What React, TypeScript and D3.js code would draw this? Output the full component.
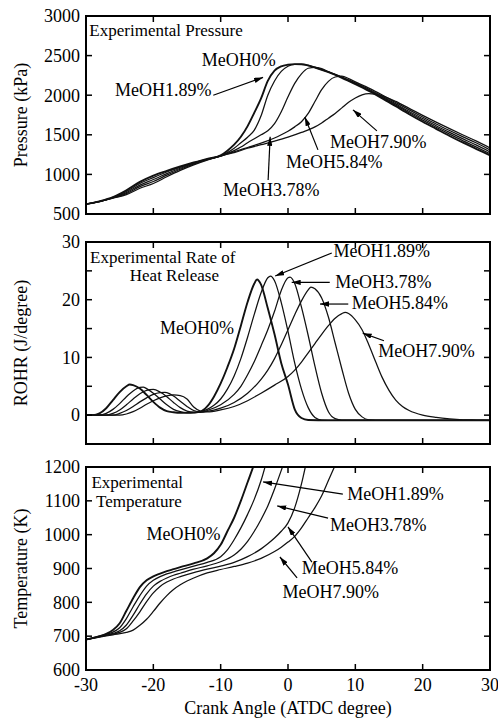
import React from 'react'
import * as d3 from 'd3'

// fuel blends, earliest ignition first
const seriesNames = ['MeOH0%', 'MeOH1.89%', 'MeOH3.78%', 'MeOH5.84%', 'MeOH7.90%']
const crankTicks = [-30, -20, -10, 0, 10, 20, 30]

// pressure, kPa  [crank angle, value]
const pressure0 = [[-30,625],[-28,660],[-26,712],[-24,800],[-22,905],[-20,985],[-18,1045],[-16,1100],[-14,1150],[-12,1195],[-10,1240],[-9,1300],[-8,1375],[-7,1475],[-6,1610],[-5,1780],[-4,1960],[-3,2180],[-2,2310],[-1,2365],[0,2385],[1,2392],[2,2390],[3,2375],[4,2350],[6,2290],[8,2220],[10,2140],[12,2055],[14,1960],[16,1860],[18,1760],[20,1665],[22,1575],[24,1485],[26,1400],[28,1320],[30,1240]]
const pressure1 = [[-30,625],[-28,660],[-26,710],[-24,785],[-22,885],[-20,960],[-18,1030],[-16,1090],[-14,1145],[-12,1192],[-10,1238],[-9,1275],[-8,1330],[-7,1400],[-6,1470],[-5,1560],[-4,1740],[-3,2000],[-2,2180],[-1,2300],[0,2365],[1,2388],[2,2390],[3,2378],[4,2352],[6,2293],[8,2225],[10,2148],[12,2065],[14,1972],[16,1875],[18,1778],[20,1685],[22,1595],[24,1508],[26,1424],[28,1345],[30,1262]]
const pressure2 = [[-30,625],[-28,658],[-26,705],[-24,770],[-22,865],[-20,935],[-18,1010],[-16,1078],[-14,1138],[-12,1188],[-10,1235],[-9,1265],[-8,1300],[-7,1345],[-6,1400],[-5,1450],[-4,1500],[-3,1550],[-2,1640],[-1,1790],[0,1980],[1,2150],[2,2270],[3,2340],[4,2352],[5,2335],[6,2298],[8,2230],[10,2155],[12,2075],[14,1985],[16,1890],[18,1795],[20,1705],[22,1615],[24,1530],[26,1448],[28,1370],[30,1285]]
const pressure3 = [[-30,625],[-28,657],[-26,702],[-24,757],[-22,845],[-20,910],[-18,990],[-16,1065],[-14,1130],[-12,1185],[-10,1232],[-9,1258],[-8,1285],[-6,1340],[-4,1395],[-2,1460],[-1,1500],[0,1545],[1,1600],[2,1665],[3,1770],[4,1920],[5,2070],[6,2175],[7,2230],[8,2240],[9,2210],[10,2168],[12,2090],[14,2002],[16,1908],[18,1815],[20,1725],[22,1637],[24,1554],[26,1474],[28,1396],[30,1310]]
const pressure4 = [[-30,625],[-28,656],[-26,700],[-24,745],[-22,825],[-20,885],[-18,970],[-16,1050],[-14,1120],[-12,1180],[-10,1230],[-9,1255],[-8,1275],[-6,1330],[-4,1375],[-2,1420],[0,1470],[2,1530],[4,1600],[5,1650],[6,1710],[7,1770],[8,1840],[9,1910],[10,1965],[11,2005],[12,2020],[13,2012],[14,1992],[16,1922],[18,1834],[20,1745],[22,1660],[24,1578],[26,1498],[28,1420],[30,1335]]

// rate of heat release, J/degree
const rohr0 = [[-30,0],[-29,0],[-28,0.3],[-27,1.2],[-26,2.6],[-25,4.0],[-24,5.0],[-23.5,5.3],[-23,5.2],[-22,4.6],[-21,3.5],[-20,2.3],[-19,1.3],[-18,0.7],[-17,0.5],[-16,0.4],[-15,0.4],[-14,0.45],[-13,0.6],[-12,1.5],[-11,3.2],[-10,5.5],[-9,8.3],[-8,11.5],[-7,15.5],[-6,19.6],[-5,22.8],[-4.6,23.5],[-4,22.6],[-3,18.5],[-2,14],[-1,9],[0,5.3],[1,1.0],[2,-0.5],[3,-0.85],[6,-0.9],[30,-0.9]]
const rohr1 = [[-30,0],[-28,0],[-27,0.3],[-26,1.0],[-25,2.0],[-24,3.2],[-23,4.2],[-22,4.8],[-21.5,4.85],[-21,4.6],[-20,3.8],[-19,2.8],[-18,1.8],[-17,1.0],[-16,0.6],[-15,0.45],[-14,0.45],[-13,0.6],[-12,1.0],[-11,1.7],[-10,2.8],[-9,4.5],[-8,6.8],[-7,9.8],[-6,13.5],[-5,17.5],[-4,21.2],[-3,23.8],[-2.6,24.1],[-2,23.3],[-1,19.5],[0,14.5],[1,9],[2,4.5],[3,1.3],[4,-0.4],[5,-0.85],[30,-0.9]]
const rohr2 = [[-30,0],[-27,0],[-26,0.3],[-25,0.9],[-24,1.8],[-23,2.8],[-22,3.7],[-21,4.3],[-20,4.45],[-19,4.0],[-18,3.2],[-17,2.2],[-16,1.3],[-15,0.7],[-14,0.5],[-13,0.5],[-12,0.8],[-10,1.8],[-8,3.6],[-7,5.0],[-6,7.0],[-5,9.3],[-4,12.0],[-3,14.8],[-2,18.0],[-1,21.6],[0,23.8],[0.3,23.9],[1,22.8],[2,18.7],[3,13.8],[4,8.5],[5,3.8],[6,0.6],[7,-0.6],[8,-0.85],[30,-0.9]]
const rohr3 = [[-30,0],[-26,0],[-25,0.3],[-24,0.8],[-23,1.5],[-22,2.3],[-21,3.0],[-20,3.6],[-19,3.9],[-18.3,3.95],[-18,3.9],[-17,3.3],[-16,2.4],[-15,1.5],[-14,0.8],[-13,0.55],[-12,0.65],[-10,1.2],[-8,2.2],[-6,3.8],[-4,6.2],[-3,7.8],[-2,9.8],[-1,12.2],[0,14.8],[1,17.4],[2,19.8],[3,21.7],[3.4,22.2],[4,21.9],[5,20.3],[6,17.0],[7,12.5],[8,8.0],[9,3.8],[10,1.0],[11,-0.3],[12,-0.8],[14,-0.9],[30,-0.9]]
const rohr4 = [[-30,0],[-25,0],[-24,0.2],[-23,0.6],[-22,1.2],[-21,1.9],[-20,2.5],[-19,3.0],[-18,3.35],[-17,3.5],[-16,3.4],[-15,2.8],[-14,1.4],[-13,0.7],[-12,0.55],[-10,0.9],[-8,1.5],[-6,2.5],[-4,3.8],[-2,5.2],[0,6.7],[1,7.8],[2,9.2],[3,10.8],[4,12.4],[5,14.0],[6,15.5],[7,16.8],[8,17.6],[8.5,17.8],[9,17.6],[10,16.5],[11,14.8],[12,12.2],[13,9.3],[14,6.5],[15,4.3],[16,2.6],[17,1.5],[18,0.8],[20,0],[22,-0.4],[24,-0.65],[26,-0.8],[28,-0.85],[30,-0.9]]

// in-cylinder temperature, K
const temp0 = [[-30,690],[-28,700],[-27,707],[-26,718],[-25,738],[-24,775],[-23,812],[-22,845],[-21,865],[-20,877],[-19,885],[-18,892],[-17,898],[-16,904],[-14,915],[-12,930],[-11,945],[-10,970],[-9,1010],[-8,1050],[-7,1100],[-6,1155],[-5,1210],[-4,1270]]
const temp1 = [[-30,690],[-28,700],[-27,706],[-26,712],[-25,725],[-24,752],[-23,787],[-22,820],[-21,848],[-20,865],[-19,876],[-18,884],[-17,890],[-16,896],[-14,907],[-12,918],[-10,935],[-9,955],[-8,985],[-7,1020],[-6,1060],[-5,1105],[-4,1160],[-3,1230]]
const temp2 = [[-30,690],[-28,699],[-26,708],[-25,716],[-24,733],[-23,762],[-22,795],[-21,825],[-20,848],[-19,862],[-18,872],[-17,880],[-16,886],[-14,898],[-12,908],[-10,920],[-8,940],[-7,957],[-6,980],[-5,1010],[-4,1045],[-3,1085],[-2,1135],[-1,1190],[0,1250]]
const temp3 = [[-30,690],[-28,698],[-26,706],[-25,711],[-24,722],[-23,745],[-22,772],[-21,802],[-20,828],[-19,847],[-18,860],[-17,869],[-16,876],[-14,888],[-12,898],[-10,907],[-8,918],[-6,935],[-4,958],[-3,973],[-2,990],[-1,1010],[0,1035],[1,1080],[2,1150],[3,1240]]
const temp4 = [[-30,690],[-28,697],[-26,704],[-24,711],[-23,718],[-22,732],[-21,750],[-20,773],[-19,798],[-18,820],[-17,838],[-16,852],[-15,863],[-14,872],[-12,887],[-10,897],[-8,906],[-6,916],[-4,930],[-2,950],[-1,963],[0,978],[1,995],[2,1020],[3,1050],[4,1080],[5,1115],[6,1160],[7,1205],[8,1250]]

const pressureTicks = [500, 1000, 1500, 2000, 2500, 3000]
const rohrTicks = [-5, 0, 5, 10, 15, 20, 25, 30]
const rohrLabels = [0, 10, 20, 30]
const tempTicks = [600, 700, 800, 900, 1000, 1100, 1200]

const W = 498
const H = 723
const font = "'Liberation Serif', 'Times New Roman', Times, serif"

const x = d3.scaleLinear().domain([-30, 30]).range([86, 490])

// notes are placed in data units: [angle, value] for the text, arrows from -> to
const panels = [
  {
    id: 'p', series: [pressure0, pressure1, pressure2, pressure3, pressure4],
    domain: [500, 3000], range: [214, 16], ticks: pressureTicks, labels: pressureTicks,
    title: 'Pressure (kPa)',
    heading: [{ text: 'Experimental Pressure', at: [-29.5, 2750] }],
    notes: [
      { i: 0, at: [-12.8, 2370] },
      { i: 1, at: [-25.7, 1990], from: [-11.1, 2000], to: [-3.7, 2225] },
      { i: 2, at: [-9.65, 727], from: [-2.95, 930], to: [-2.65, 1475] },
      { i: 3, at: [-0.3, 1081], from: [4.45, 1310], to: [2.5, 1725] },
      { i: 4, at: [6.24, 1333], from: [13.2, 1550], to: [9.65, 1815] }
    ]
  },
  {
    id: 'r', series: [rohr0, rohr1, rohr2, rohr3, rohr4],
    domain: [-5, 30], range: [444, 242], ticks: rohrTicks, labels: rohrLabels,
    title: 'ROHR (J/degree)',
    heading: [
      { text: 'Experimental Rate of', at: [-29.4, 26.4] },
      { text: 'Heat Release', at: [-23.5, 23.2] }
    ],
    notes: [
      { i: 0, at: [-19.0, 14.1] },
      { i: 1, at: [6.75, 27.4], from: [6.5, 28.1], to: [-1.9, 24.1] },
      { i: 2, at: [7.0, 22.0], from: [6.2, 23.0], to: [0.55, 23.0] },
      { i: 3, at: [9.45, 18.35], from: [8.95, 19.25], to: [4.75, 19.25] },
      { i: 4, at: [13.4, 10.1], from: [14.25, 12.9], to: [11.1, 14.2] }
    ]
  },
  {
    id: 't', series: [temp0, temp1, temp2, temp3, temp4],
    domain: [600, 1200], range: [670, 467], ticks: tempTicks, labels: tempTicks,
    title: 'Temperature (K)',
    heading: [
      { text: 'Experimental', at: [-29.2, 1139] },
      { text: 'Temperature', at: [-28.5, 1083] }
    ],
    notes: [
      { i: 0, at: [-21.0, 984] },
      { i: 1, at: [8.8, 1102], from: [8.15, 1120], to: [-3.7, 1156] },
      { i: 2, at: [6.25, 1012], from: [5.95, 1049], to: [-1.6, 1085] },
      { i: 3, at: [2.05, 884], from: [3.55, 919], to: [0.0, 1023] },
      { i: 4, at: [-0.8, 812], from: [1.35, 872], to: [-1.2, 934] }
    ]
  }
]

function Panel({ p }: { p: any }) {
  const y = d3.scaleLinear().domain(p.domain).range(p.range)
  const line = d3.line<number[]>()
    .x(d => x(d[0]))
    .y(d => y(d[1]))
    .curve(d3.curveMonotoneX)
  const [x0, x1] = x.range()
  const top = p.range[1]
  const bottom = p.range[0]
  const tick = 6

  return (
    <g>
      <clipPath id={`clip-${p.id}`}>
        <rect x={x0} y={top} width={x1 - x0} height={bottom - top} />
      </clipPath>
      <g clipPath={`url(#clip-${p.id})`}>
        {p.series.map((s: number[][], i: number) => (
          <path key={i} d={line(s) || ''} fill="none" stroke="#111"
            strokeWidth={i === 0 ? 1.9 : 1.25} strokeLinejoin="round" />
        ))}
      </g>

      {crankTicks.map(t => (
        <g key={t}>
          <line x1={x(t)} x2={x(t)} y1={bottom} y2={bottom - tick} stroke="#000" strokeWidth={1.5} />
          <line x1={x(t)} x2={x(t)} y1={top} y2={top + tick} stroke="#000" strokeWidth={1.5} />
        </g>
      ))}
      {p.ticks.map((t: number) => (
        <g key={t}>
          <line x1={x0} x2={x0 + tick} y1={y(t)} y2={y(t)} stroke="#000" strokeWidth={1.5} />
          <line x1={x1} x2={x1 - tick} y1={y(t)} y2={y(t)} stroke="#000" strokeWidth={1.5} />
        </g>
      ))}
      {p.labels.map((t: number) => (
        <text key={t} x={x0 - 6} y={y(t)} dy="0.35em" textAnchor="end">{t}</text>
      ))}

      <rect x={x0} y={top} width={x1 - x0} height={bottom - top} fill="none" stroke="#000" strokeWidth={2} />

      <text transform={`translate(27,${(top + bottom) / 2}) rotate(-90)`} textAnchor="middle">{p.title}</text>

      {p.heading.map((h: any, k: number) => (
        <text key={k} x={x(h.at[0])} y={y(h.at[1])} style={{ fontSize: 17 }}>{h.text}</text>
      ))}
      {p.notes.map((n: any) => (
        <g key={n.i}>
          <text x={x(n.at[0])} y={y(n.at[1])}>{seriesNames[n.i]}</text>
          {n.from && (
            <line x1={x(n.from[0])} y1={y(n.from[1])} x2={x(n.to[0])} y2={y(n.to[1])}
              stroke="#000" strokeWidth={1.2} markerEnd="url(#arrow)" />
          )}
        </g>
      ))}
    </g>
  )
}

export default function App() {
  const bottom = panels[2].range[0]
  return (
    <svg width={W} height={H}
      style={{ position: 'absolute', left: 0, top: 0, background: '#fff', fontFamily: font, fontSize: 18 }}
      fill="#000">
      <defs>
        <marker id="arrow" viewBox="0 0 10 6" refX={10} refY={3} markerWidth={9} markerHeight={5.5}
          markerUnits="userSpaceOnUse" orient="auto">
          <path d="M0,0 L10,3 L0,6 Z" fill="#000" />
        </marker>
      </defs>
      {panels.map(p => <Panel key={p.id} p={p} />)}
      {crankTicks.map(t => (
        <text key={t} x={x(t)} y={bottom + 21} textAnchor="middle">{t}</text>
      ))}
      <text x={(x.range()[0] + x.range()[1]) / 2} y={714} textAnchor="middle">Crank Angle (ATDC degree)</text>
    </svg>
  )
}
